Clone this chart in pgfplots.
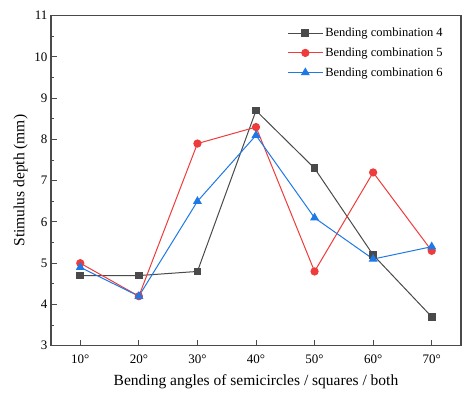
\documentclass[border=0pt]{standalone}
\usepackage{pgfplots}
\pgfplotsset{compat=1.18}
\usepackage{fontspec}
\setmainfont{Liberation Serif}
\definecolor{cgray}{HTML}{4A4A4A}
\definecolor{cred}{HTML}{EE3B3B}
\definecolor{cblue}{HTML}{1E78E6}
\begin{document}
\begin{tikzpicture}
\begin{axis}[
  scale only axis,
  width=410pt, height=330pt,
  xmin=5, xmax=75, ymin=3, ymax=11,
  xtick={10,20,30,40,50,60,70},
  xticklabels={10°,20°,30°,40°,50°,60°,70°},
  ytick={3,4,5,6,7,8,9,10,11},
  minor y tick num=1,
  tick align=inside,
  xtick pos=bottom, ytick pos=left,
  major tick length=6pt, minor tick length=3.3pt,
  axis line style={cgray, line width=1.2pt},
  every tick/.style={cgray, line width=1pt},
  /pgf/number format/assume math mode=true,
  tick label style={font=\fontsize{13}{15}\selectfont, black},
  xticklabel style={yshift=-6pt},
  label style={font=\fontsize{15.5}{18}\selectfont},
  xlabel={Bending angles of semicircles / squares / both},
  ylabel={Stimulus depth (mm)},
  xlabel style={yshift=-4pt},
  ylabel style={yshift=0pt},
  legend style={draw=none, fill=none, at={(0.968,0.975)}, anchor=north east,
    font=\fontsize{12.5}{14}\selectfont, row sep=5.5pt},
  legend cell align=left,
  legend image code/.code={
    \draw[mark repeat=2,mark phase=2] plot coordinates {(0pt,0pt) (17.5pt,0pt) (35pt,0pt)};
  },
]
\addplot[cgray, line width=1pt, mark=square*, mark size=3.4pt, mark options={fill=cgray}]
  coordinates {(10,4.7) (20,4.7) (30,4.8) (40,8.7) (50,7.3) (60,5.2) (70,3.7)};
\addlegendentry{Bending combination 4}
\addplot[cred, line width=1pt, mark=*, mark size=3.6pt, mark options={fill=cred}]
  coordinates {(10,5.0) (20,4.2) (30,7.9) (40,8.3) (50,4.8) (60,7.2) (70,5.3)};
\addlegendentry{Bending combination 5}
\addplot[cblue, line width=1pt, mark=triangle*, mark size=4.2pt, mark options={fill=cblue}]
  coordinates {(10,4.9) (20,4.2) (30,6.5) (40,8.1) (50,6.1) (60,5.1) (70,5.4)};
\addlegendentry{Bending combination 6}
\end{axis}
\pgfresetboundingbox
\path (current axis.south west) ++(-51pt,-50pt) rectangle ([shift={(10pt,15.7pt)}]current axis.north east);
\end{tikzpicture}
\end{document}
